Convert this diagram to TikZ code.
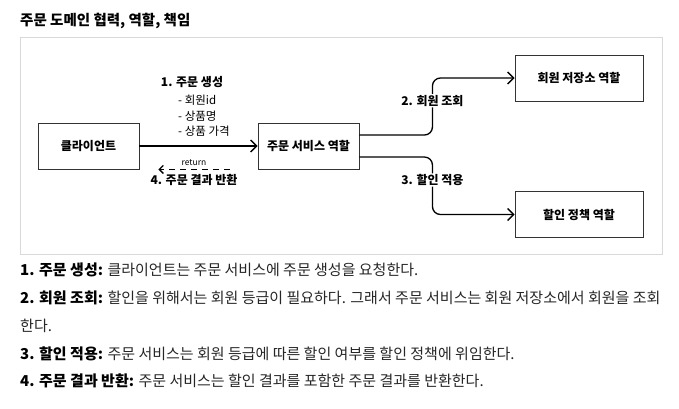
\documentclass[tikz,border=0pt]{standalone}
\usepackage{fontspec}
\setmainfont{Noto Sans CJK KR}
\usetikzlibrary{arrows.meta,positioning}

\begin{document}
\begin{tikzpicture}[x=1pt,y=-1pt,>={Straight Barb[length=6pt,width=12pt]},
	role/.style={draw=black!80,line width=0.9pt,minimum width=101pt,minimum height=46pt,inner sep=0pt,font=\fontsize{12}{14}\selectfont\bfseries},
	flow/.style={->,line width=1.3pt,rounded corners=8pt},
	lbl/.style={fill=white,inner sep=1pt,font=\fontsize{12}{14}\selectfont\bfseries},
	item/.style={anchor=west,inner sep=0pt,font=\fontsize{11.5}{13}\selectfont},
	para/.style={anchor=west,inner sep=0pt,text=black!85,font=\fontsize{15}{17}\selectfont}]
		\useasboundingbox (0,0) rectangle (679,408);
		\node[anchor=west,inner sep=0pt,font=\fontsize{14.5}{17}\selectfont\bfseries] (title) at (20,21) {주문 도메인 협력, 역할, 책임};
		\draw[black!15,line width=1pt,fill=white] (20,37) rectangle (662,254);
		\node[role] (client) at (88.5,146) {클라이언트};
		\node[role] (order) at (308.5,146) {주문 서비스 역할};
		\node[role,minimum width=128pt] (member) at (579,78) {회원 저장소 역할};
		\node[role,minimum width=128pt] (discount) at (579,214.5) {할인 정책 역할};
		\draw[flow] (client) -- (order);
		\node[lbl] (create) at (192,82) {1. 주문 생성};
		\node[item] (itemid) at (178,100) {- 회원id};
		\node[item] (itemname) at (178,116) {- 상품명};
		\node[item] (itemprice) at (178,131) {- 상품 가격};
		\draw[flow] ([yshift=11pt]order.east) -- ++(73,0) |- (member.west) node[lbl,pos=0.3] {2. 회원 조회};
		\draw[flow] ([yshift=-11pt]order.east) -- ++(73,0) |- (discount.west) node[lbl,pos=0.2] {3. 할인 적용};
		\draw[->,>={Straight Barb[length=4pt,width=8pt]},line width=1.3pt,dash pattern=on 6pt off 5pt] ([xshift=-28pt]order.south west) -- ([xshift=19pt]client.south east)
			node[midway,above=3pt,inner sep=0pt,font=\fontsize{8.5}{10}\selectfont] (ret) {return}
			node[midway,below=4pt,inner sep=0pt,font=\fontsize{12}{14}\selectfont\bfseries] (result) {4. 주문 결과 반환};
		\node[para] (step1) at (20,270) {\textbf{\color{black}1. 주문 생성:} 클라이언트는 주문 서비스에 주문 생성을 요청한다.};
		\node[para] (step2) at (20,298) {\textbf{\color{black}2. 회원 조회:} 할인을 위해서는 회원 등급이 필요하다. 그래서 주문 서비스는 회원 저장소에서 회원을 조회};
		\node[para] (step2b) at (20,326) {한다.};
		\node[para] (step3) at (20,354) {\textbf{\color{black}3. 할인 적용:} 주문 서비스는 회원 등급에 따른 할인 여부를 할인 정책에 위임한다.};
		\node[para] (step4) at (20,381) {\textbf{\color{black}4. 주문 결과 반환:} 주문 서비스는 할인 결과를 포함한 주문 결과를 반환한다.};
\end{tikzpicture}
\end{document}
